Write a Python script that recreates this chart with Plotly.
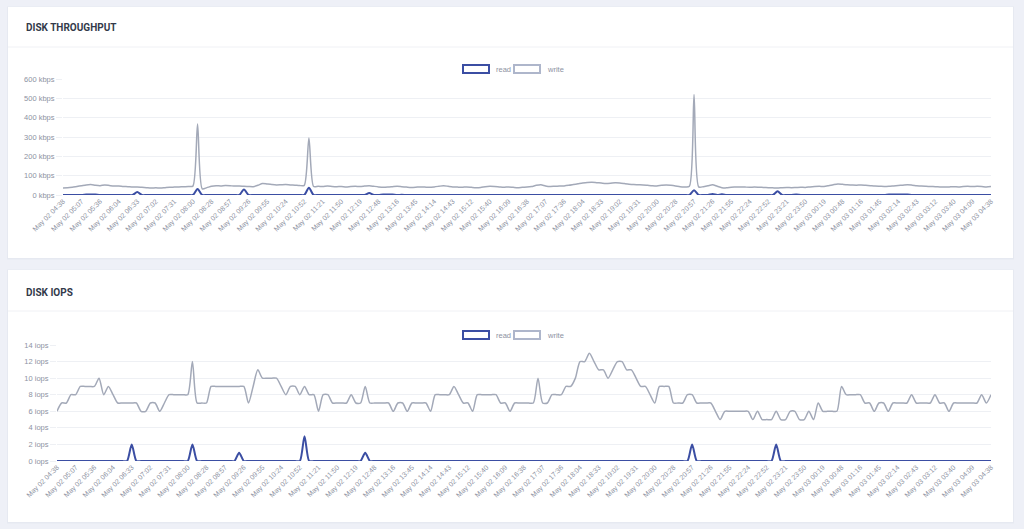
import pandas as pd
import plotly.graph_objects as go

# ---------------- data ----------------
TIMES = pd.date_range("2024-05-02 04:38:00", periods=201, freq="432s")

TICK_LABELS = [
    "May 02 04:38", "May 02 05:07", "May 02 05:36", "May 02 06:04", "May 02 06:33",
    "May 02 07:02", "May 02 07:31", "May 02 08:00", "May 02 08:28", "May 02 08:57",
    "May 02 09:26", "May 02 09:55", "May 02 10:24", "May 02 10:52", "May 02 11:21",
    "May 02 11:50", "May 02 12:19", "May 02 12:48", "May 02 13:16", "May 02 13:45",
    "May 02 14:14", "May 02 14:43", "May 02 15:12", "May 02 15:40", "May 02 16:09",
    "May 02 16:38", "May 02 17:07", "May 02 17:36", "May 02 18:04", "May 02 18:33",
    "May 02 19:02", "May 02 19:31", "May 02 20:00", "May 02 20:28", "May 02 20:57",
    "May 02 21:26", "May 02 21:55", "May 02 22:24", "May 02 22:52", "May 02 23:21",
    "May 02 23:50", "May 03 00:19", "May 03 00:48", "May 03 01:16", "May 03 01:45",
    "May 03 02:14", "May 03 02:43", "May 03 03:12", "May 03 03:40", "May 03 04:09",
    "May 03 04:38",
]

TP_WRITE = [
    36, 37, 40, 44, 48, 52, 54, 50, 48, 52,
    49, 46, 47, 44, 43, 41, 42, 40, 38, 36,
    37, 36, 38, 40, 41, 42, 43, 44, 46, 367,
    32, 38, 45, 48, 47, 49, 48, 46, 47, 45,
    44, 43, 50, 60, 57, 54, 52, 53, 54, 52,
    51, 49, 50, 295, 44, 45, 44, 46, 44, 43,
    44, 42, 44, 45, 44, 46, 48, 45, 42, 40,
    41, 43, 45, 43, 41, 39, 40, 42, 41, 40,
    42, 45, 48, 45, 42, 41, 40, 42, 40, 38,
    39, 43, 45, 44, 42, 40, 42, 40, 38, 40,
    41, 44, 50, 53, 47, 44, 45, 46, 47, 50,
    54, 58, 62, 65, 66, 64, 62, 60, 61, 63,
    62, 59, 56, 54, 53, 52, 50, 48, 47, 50,
    52, 50, 47, 43, 42, 45, 520, 42, 43, 48,
    53, 45, 38, 37, 40, 41, 42, 41, 40, 41,
    40, 39, 38, 37, 36, 38, 39, 38, 39, 40,
    39, 42, 44, 45, 44, 48, 53, 57, 55, 53,
    52, 51, 52, 50, 48, 46, 45, 44, 45, 47,
    49, 51, 53, 51, 48, 46, 45, 44, 43, 42,
    41, 42, 43, 42, 44, 45, 44, 45, 44, 42,
    44,
]

TP_READ = [
    0, 0, 0, 0, 0, 2, 3, 2, 0, 0,
    0, 0, 0, 0, 0, 0, 15, 0, 0, 0,
    0, 0, 0, 0, 0, 0, 0, 0, 0, 31,
    0, 0, 0, 0, 0, 0, 0, 0, 0, 29,
    0, 0, 0, 0, 0, 0, 0, 0, 0, 0,
    0, 0, 0, 38, 0, 0, 0, 0, 0, 0,
    0, 0, 0, 0, 0, 0, 10, 0, 0, 2,
    2, 2, 0, 1, 0, 0, 0, 0, 0, 0,
    0, 0, 0, 0, 0, 0, 0, 0, 0, 0,
    0, 0, 0, 0, 0, 0, 0, 0, 0, 0,
    0, 0, 0, 0, 0, 0, 0, 0, 0, 0,
    0, 0, 0, 0, 0, 0, 0, 0, 0, 0,
    0, 0, 0, 0, 0, 0, 0, 0, 0, 0,
    0, 0, 0, 0, 0, 0, 24, 0, 0, 0,
    5, 0, 4, 0, 0, 0, 0, 0, 0, 0,
    0, 0, 0, 0, 19, 0, 0, 0, 2, 0,
    0, 0, 0, 0, 0, 0, 0, 0, 0, 0,
    0, 0, 0, 0, 0, 0, 0, 0, 2, 2,
    2, 2, 2, 0, 0, 0, 0, 0, 0, 0,
    0, 0, 0, 0, 0, 0, 0, 0, 0, 0,
    0,
]

IOPS_WRITE = [
    6, 7, 7, 8, 8, 9, 9, 9, 9, 10,
    8, 9, 8, 7, 7, 7, 7, 7, 6, 6,
    7, 7, 6, 7, 8, 8, 8, 8, 8, 12,
    7, 7, 7, 9, 9, 9, 9, 9, 9, 9,
    9, 7, 9, 11, 10, 10, 10, 10, 9, 8,
    9, 9, 8, 9, 8, 8, 6, 8, 8, 7,
    7, 7, 7, 8, 7, 7, 9, 7, 7, 7,
    7, 7, 6, 7, 7, 6, 7, 7, 7, 7,
    6, 8, 8, 8, 8, 9, 8, 7, 7, 6,
    8, 8, 8, 8, 8, 7, 7, 6, 7, 7,
    7, 7, 7, 10, 7, 7, 8, 8, 8, 9,
    9, 10, 12, 12, 13, 12, 11, 11, 10, 11,
    12, 12, 11, 11, 10, 9, 9, 8, 7, 9,
    9, 9, 7, 7, 7, 8, 8, 7, 7, 7,
    7, 6, 5, 6, 6, 6, 6, 6, 6, 5,
    6, 5, 5, 5, 6, 5, 5, 6, 6, 5,
    5, 6, 5, 7, 6, 6, 6, 6, 9, 8,
    8, 8, 8, 7, 7, 6, 7, 7, 6, 7,
    7, 7, 7, 8, 7, 7, 7, 7, 8, 7,
    7, 6, 7, 7, 7, 7, 7, 7, 8, 7,
    8,
]

IOPS_READ = [
    0, 0, 0, 0, 0, 0, 0, 0, 0, 0,
    0, 0, 0, 0, 0, 0, 2, 0, 0, 0,
    0, 0, 0, 0, 0, 0, 0, 0, 0, 2,
    0, 0, 0, 0, 0, 0, 0, 0, 0, 1,
    0, 0, 0, 0, 0, 0, 0, 0, 0, 0,
    0, 0, 0, 3, 0, 0, 0, 0, 0, 0,
    0, 0, 0, 0, 0, 0, 1, 0, 0, 0,
    0, 0, 0, 0, 0, 0, 0, 0, 0, 0,
    0, 0, 0, 0, 0, 0, 0, 0, 0, 0,
    0, 0, 0, 0, 0, 0, 0, 0, 0, 0,
    0, 0, 0, 0, 0, 0, 0, 0, 0, 0,
    0, 0, 0, 0, 0, 0, 0, 0, 0, 0,
    0, 0, 0, 0, 0, 0, 0, 0, 0, 0,
    0, 0, 0, 0, 0, 0, 2, 0, 0, 0,
    0, 0, 0, 0, 0, 0, 0, 0, 0, 0,
    0, 0, 0, 0, 2, 0, 0, 0, 0, 0,
    0, 0, 0, 0, 0, 0, 0, 0, 0, 0,
    0, 0, 0, 0, 0, 0, 0, 0, 0, 0,
    0, 0, 0, 0, 0, 0, 0, 0, 0, 0,
    0, 0, 0, 0, 0, 0, 0, 0, 0, 0,
    0,
]

TP_TICKS = [0, 100, 200, 300, 400, 500, 600]
TP_TICK_TEXT = ["0 kbps", "100 kbps", "200 kbps", "300 kbps", "400 kbps", "500 kbps", "600 kbps"]
IOPS_TICKS = [0, 2, 4, 6, 8, 10, 12, 14]
IOPS_TICK_TEXT = ["0 iops", "2 iops", "4 iops", "6 iops", "8 iops", "10 iops", "12 iops", "14 iops"]

# ---------------- style ----------------
W, H = 1024, 529
READ_C = "#3b4ea3"
WRITE_C = "#a3a9b8"
LEG_WRITE_C = "#aeb6cb"
GRID_C = "#eef0f4"
TICK_FONT_C = "#8d92a2"
BG_C = "#eef0f7"
FONT = "Liberation Sans, Arial, sans-serif"


def fx(px):
    return px / W


def fy(py):
    return 1 - py / H


fig = go.Figure()

line_kw = dict(shape="spline", smoothing=0.7)
fig.add_trace(go.Scatter(x=TIMES, y=TP_WRITE, mode="lines", xaxis="x", yaxis="y",
                         line=dict(color=WRITE_C, width=1.5, **line_kw), showlegend=False,
                         name="write"))
fig.add_trace(go.Scatter(x=TIMES, y=TP_READ, mode="lines", xaxis="x", yaxis="y",
                         line=dict(color=READ_C, width=2, **line_kw), showlegend=False,
                         name="read"))
fig.add_trace(go.Scatter(x=TIMES, y=IOPS_WRITE, mode="lines", xaxis="x2", yaxis="y2",
                         line=dict(color=WRITE_C, width=1.5, **line_kw), showlegend=False,
                         name="write"))
fig.add_trace(go.Scatter(x=TIMES, y=IOPS_READ, mode="lines", xaxis="x2", yaxis="y2",
                         line=dict(color=READ_C, width=2, **line_kw), showlegend=False,
                         name="read"))

xaxis_common = dict(
    type="date",
    tickvals=list(TIMES[::4]),
    ticktext=TICK_LABELS,
    tickangle=-45,
    tickfont=dict(family=FONT, size=7, color=TICK_FONT_C),
    showgrid=False, zeroline=False, showline=False, ticks="",
    automargin=False,
    fixedrange=True,
)
yaxis_common = dict(
    showgrid=True, gridcolor=GRID_C, gridwidth=1, zeroline=False, showline=False,
    ticks="outside", ticklen=6, tickcolor=GRID_C,
    tickfont=dict(family=FONT, size=7.5, color=TICK_FONT_C),
    automargin=False,
    fixedrange=True,
)

shapes = []
annotations = []

cards = [(7, 258), (270, 522)]
for (top, bot) in cards:
    shapes.append(dict(type="rect", xref="paper", yref="paper", layer="below",
                       x0=fx(7), x1=fx(1014), y0=fy(bot + 1.5), y1=fy(top - 0.5),
                       fillcolor="#e6e9f1", line=dict(width=0)))
    shapes.append(dict(type="rect", xref="paper", yref="paper", layer="below",
                       x0=fx(8), x1=fx(1013), y0=fy(bot), y1=fy(top),
                       fillcolor="#ffffff", line=dict(width=0)))

# title separators
for sep in (47, 311):
    shapes.append(dict(type="line", xref="paper", yref="paper", layer="below",
                       x0=fx(8), x1=fx(1013), y0=fy(sep), y1=fy(sep),
                       line=dict(color="#f0f1f5", width=1)))

for text, ty in (("DISK THROUGHPUT", 27), ("DISK IOPS", 292)):
    annotations.append(dict(xref="paper", yref="paper", x=fx(24), y=fy(ty),
                            xanchor="left", yanchor="middle", showarrow=False,
                            text="<b>" + text + "</b>",
                            font=dict(family="Roboto, Liberation Sans, sans-serif", size=10,
                                      color="#333a4a")))

# legends
for ly in (69, 335):
    for (x0, color, label) in ((463, READ_C, "read"), (514, LEG_WRITE_C, "write")):
        shapes.append(dict(type="rect", xref="paper", yref="paper",
                           x0=fx(x0), x1=fx(x0 + 26), y0=fy(ly + 4), y1=fy(ly - 4),
                           fillcolor="rgba(255,255,255,0)", line=dict(color=color, width=2)))
        annotations.append(dict(xref="paper", yref="paper", x=fx(x0 + 31), y=fy(ly),
                                xanchor="left", yanchor="middle", showarrow=False,
                                text=label,
                                font=dict(family=FONT, size=7.5, color=TICK_FONT_C)))

fig.update_layout(
    width=W, height=H,
    margin=dict(l=0, r=0, t=0, b=0, pad=0),
    paper_bgcolor=BG_C,
    plot_bgcolor="#ffffff",
    showlegend=False,
    xaxis=dict(domain=[fx(63), fx(991)], anchor="y", **xaxis_common),
    yaxis=dict(domain=[fy(195), fy(79)], anchor="x", range=[0, 600],
               tickvals=TP_TICKS, ticktext=TP_TICK_TEXT, **yaxis_common),
    xaxis2=dict(domain=[fx(57), fx(991)], anchor="y2", **xaxis_common),
    yaxis2=dict(domain=[fy(461), fy(345)], anchor="x2", range=[0, 14],
                tickvals=IOPS_TICKS, ticktext=IOPS_TICK_TEXT, **yaxis_common),
    shapes=shapes,
    annotations=annotations,
)

fig.write_html("out.html", config={"displayModeBar": False})
